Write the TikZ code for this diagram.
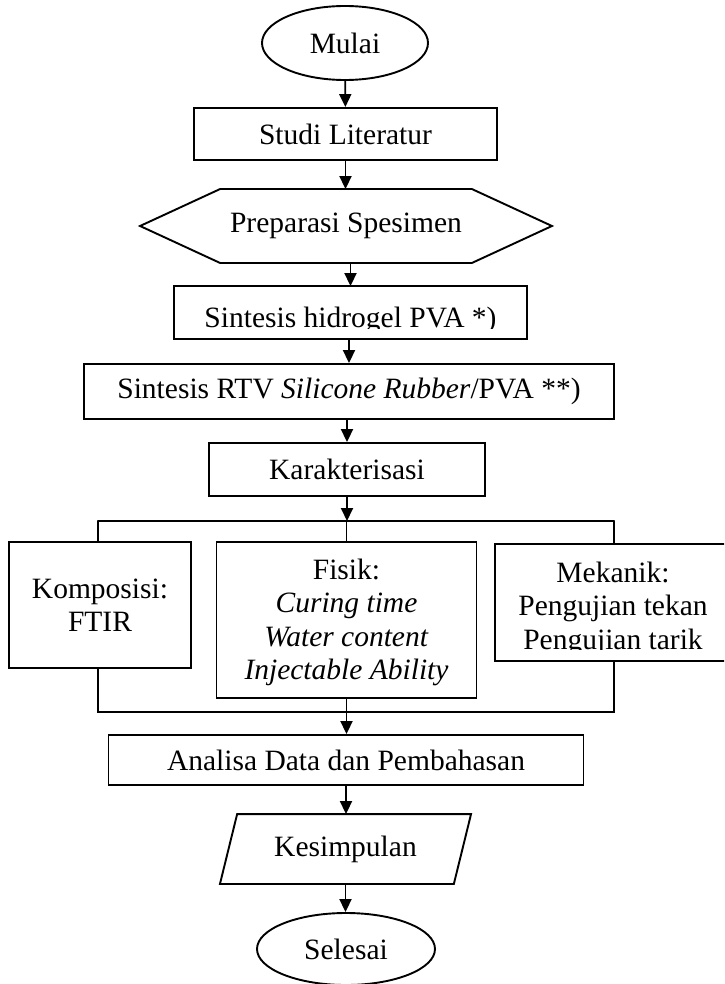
\documentclass[tikz,border=0pt]{standalone}
\usepackage{fontspec}
\setmainfont{Liberation Serif}
\usetikzlibrary{shapes.geometric}
\usetikzlibrary{arrows.meta}
% text lowered inside its box, box size unchanged
\newcommand{\lowered}[2]{\raisebox{-#1}[\height][\depth]{\begin{tabular}{@{}c@{}}#2\end{tabular}}}

\begin{document}
\begin{tikzpicture}[x=1pt, y=-1pt, line width=1.9pt, line cap=round, line join=miter, >={Triangle[length=13pt,width=12pt]},
		box/.style={draw, rectangle, inner sep=0pt, align=center, font=\fontsize{29.5}{33.5}\selectfont},
		term/.style={draw, ellipse, inner sep=0pt, font=\fontsize{29.5}{33.5}\selectfont},
		plain/.style={inner sep=0pt, align=center, font=\fontsize{29.5}{33.5}\selectfont}]
			\clip(0,0) rectangle (724,984);
			% start and end
			\node[term, minimum width=166pt, minimum height=74pt] (mulai) at (345,43) {Mulai};
			\node[term, minimum width=178pt, minimum height=72pt] (selesai) at (346,949) {Selesai};
			% steps
			\node[box, minimum width=303pt, minimum height=52pt] (studi) at (345.5,134) {Studi Literatur};
			\node[plain, minimum width=250pt, minimum height=72pt] (prep) at (346,226) {Preparasi Spesimen};
			\draw (prep.north west) -- (prep.north east) -- ([xshift=80pt]prep.east) -- (prep.south east) -- (prep.south west) -- ([xshift=-80pt]prep.west) -- cycle;
			\node[plain, minimum width=351pt, minimum height=51pt] (hidrogel) at (350.5,312.5) {\lowered{8pt}{Sintesis hidrogel PVA *)}};
			\fill[white] (178,329) rectangle (523,336);
			\draw (hidrogel.south west) rectangle (hidrogel.north east);
			\node[box, minimum width=530pt, minimum height=55pt] (rtv) at (349,391.5) {Sintesis RTV \textit{Silicone Rubber}/PVA **)};
			\node[box, minimum width=276pt, minimum height=53pt] (karak) at (347,469.5) {Karakterisasi};
			% characterisation
			\node[box, minimum width=182pt, minimum height=126pt] (komposisi) at (100,605) {Komposisi:\\FTIR};
			\node[box, minimum width=260pt, minimum height=156pt] (fisik) at (346.5,620) {\lowered{3pt}{Fisik:\\\textit{Curing time}\\\textit{Water content}\\\textit{Injectable Ability}}};
			\node[plain, minimum width=234pt, minimum height=115pt] (mekanik) at (613,602.5) {\lowered{6.5pt}{Mekanik:\\Pengujian tekan\\Pengujian tarik}};
			\fill[white] (499,650) rectangle (724,658);
			\draw (mekanik.south west) rectangle (mekanik.north east);
			\node[box, minimum width=475pt, minimum height=50pt] (analisa) at (346,760) {Analisa Data dan Pembahasan};
			\node[plain, minimum width=232pt, minimum height=68pt] (kesimpulan) at (345.5,849) {Kesimpulan};
			\draw ([xshift=8.6pt]kesimpulan.north west) -- ([xshift=8.6pt]kesimpulan.north east) -- ([xshift=-8.6pt]kesimpulan.south east) -- ([xshift=-8.6pt]kesimpulan.south west) -- cycle;
			% junctions
			\coordinate (splitL) at (98,521);
			\coordinate (splitR) at (614,521);
			\coordinate (joinL) at (98,712);
			\coordinate (joinR) at (614,712);
			% arrows
			\draw [->] (mulai) -- (studi);
			\draw [->] (studi.south) -- (studi.south |- prep.north);
			\draw [->] (hidrogel.north |- prep.south) -- (hidrogel.north);
			\draw [->] (rtv.north |- hidrogel.south) -- (rtv.north);
			\draw [->] (karak.north |- rtv.south) -- (karak.north);
			\draw [->] (karak.south) -- (karak.south |- splitL);
			\draw (splitL) -- (splitR);
			\draw (splitL) -- (splitL |- komposisi.north);
			\draw (fisik.north |- splitL) -- (fisik.north);
			\draw (splitR) -- (splitR |- mekanik.north);
			\draw (joinL |- komposisi.south) -- (joinL) -- (joinR) -- (joinR |- mekanik.south);
			\draw [->] (fisik.south) -- (analisa.north -| fisik.south);
			\draw [->] (analisa.south) -- (analisa.south |- kesimpulan.north);
			\draw [->] (kesimpulan.south) -- (kesimpulan.south |- selesai.north);
		\end{tikzpicture}
\end{document}
